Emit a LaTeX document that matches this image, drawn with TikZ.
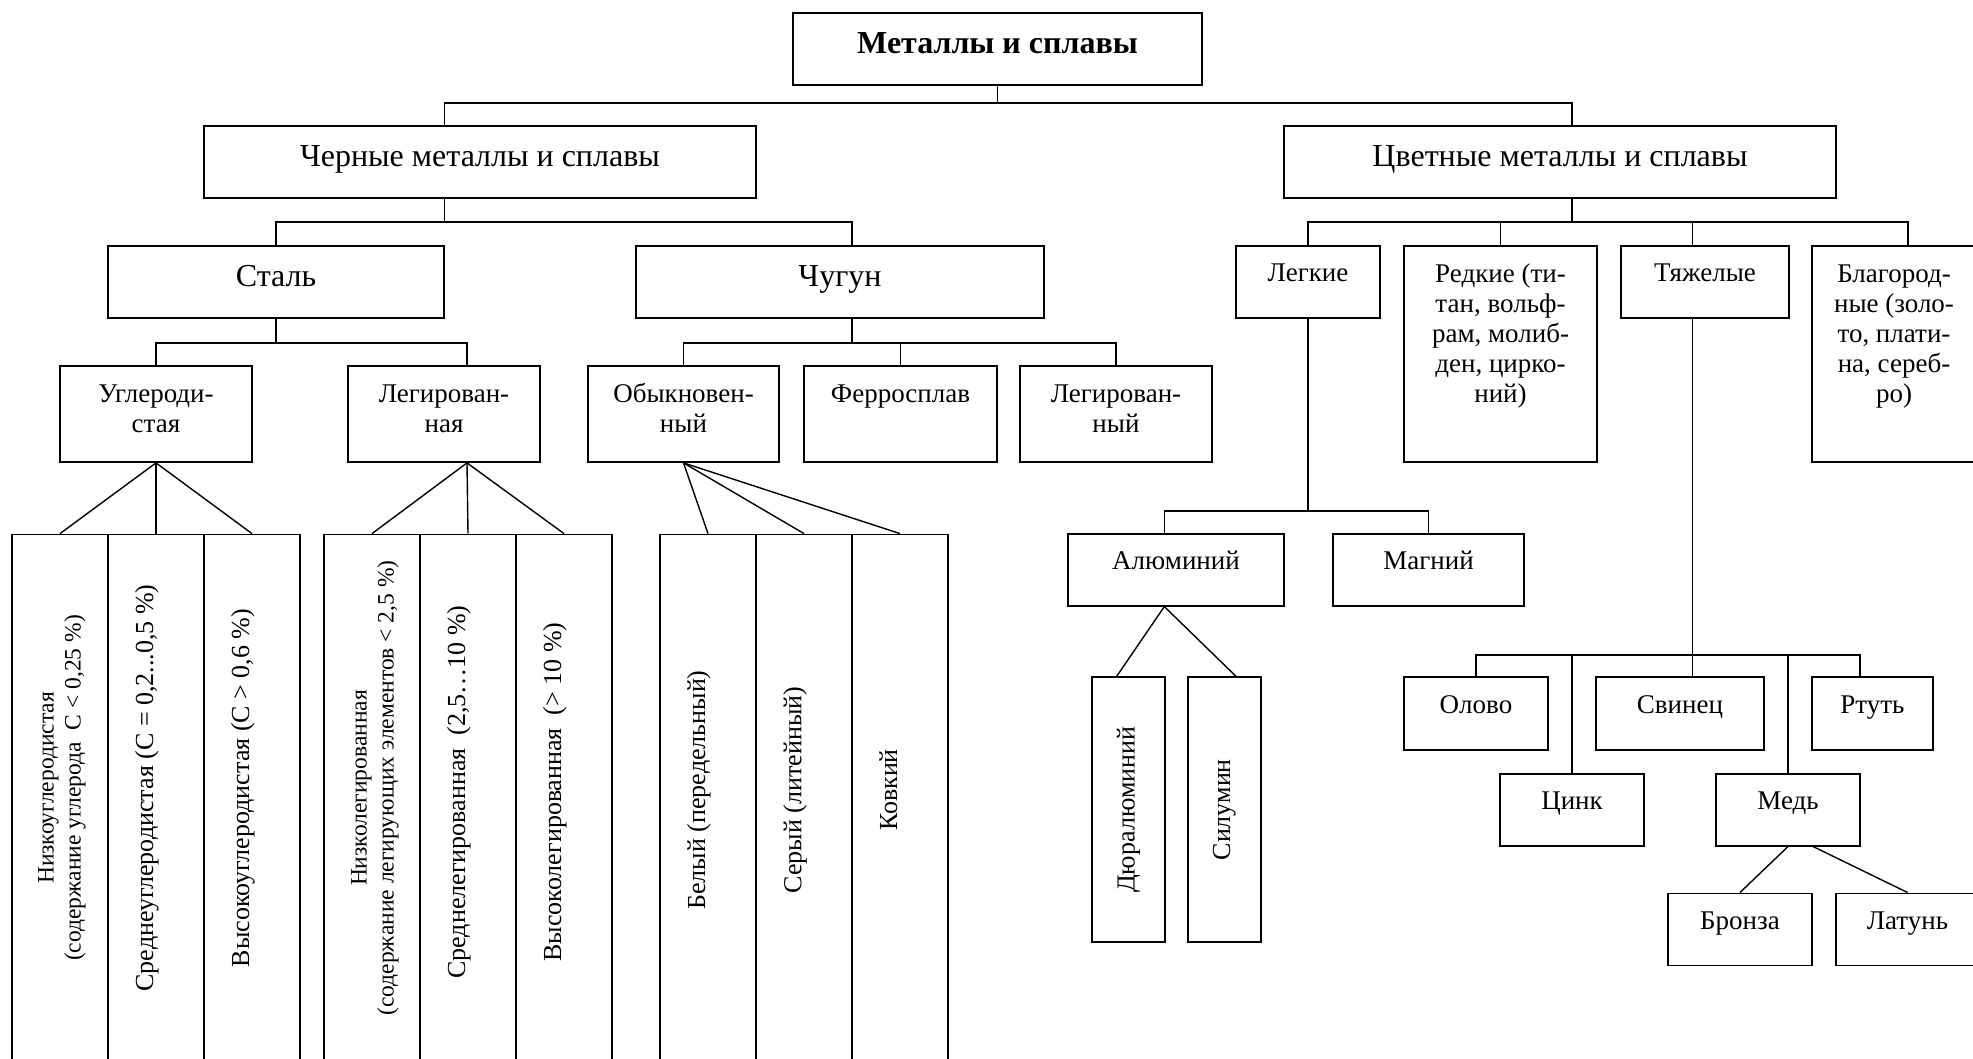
\documentclass[tikz,border=0pt]{standalone}
\usepackage{fontspec}
\setmainfont{Liberation Serif}
\usetikzlibrary{positioning}
% box with its text set at the top
\newcommand{\topcell}[4]{\parbox[c][#2][t]{#1}{\centering\vspace*{#3}\strut #4}}

\begin{document}
\begin{tikzpicture}[x=1pt, y=-1pt,
  every node/.style={font=\fontsize{27}{30}\selectfont},
  box/.style={draw, line width=1.8pt, inner sep=0pt},
  big/.style={box, font=\fontsize{32}{38}\selectfont},
  colbox/.style={draw, line width=1.8pt, inner sep=0pt, minimum width=96pt, minimum height=560pt, anchor=north},
  coltext/.style={rotate=90, anchor=north, align=center, inner sep=0pt, font=\fontsize{26}{28}\selectfont},
  twoline/.style={coltext, font=\fontsize{23.5}{27}\selectfont},
  link/.style={line width=1.4pt}]
  \useasboundingbox (0,0) rectangle (1973,1059);
  \clip (0,0) rectangle (1973,1059);

  % upper levels
  \node[box, font=\fontsize{32}{38}\selectfont\bfseries] (metal) at (997.5,49) {\topcell{409pt}{72pt}{14pt}{Металлы и сплавы}};
  \node[big] (cher) at (480,162) {\topcell{552pt}{72pt}{14pt}{Черные металлы и сплавы}};
  \node[big] (cvet) at (1560,162) {\topcell{552pt}{72pt}{14pt}{Цветные металлы и сплавы}};
  \node[big] (stal) at (276,282) {\topcell{336pt}{72pt}{14pt}{Сталь}};
  \node[big] (chug) at (840,282) {\topcell{408pt}{72pt}{14pt}{Чугун}};
  \node[box] (legk) at (1308,282) {\topcell{144pt}{72pt}{15pt}{Легкие}};
  \node[box] (redk) at (1500.5,354) {\topcell{193pt}{216pt}{15pt}{Редкие (ти-\\тан, вольф-\\рам, молиб-\\ден, цирко-\\ний)}};
  \node[box] (tyazh) at (1705,282) {\topcell{168pt}{72pt}{15pt}{Тяжелые}};
  \node[box] (blag) at (1894,354) {\topcell{164pt}{216pt}{15pt}{Благород-\\ные (золо-\\то, плати-\\на, сереб-\\ро)}};

  \node[box] (ugl) at (156,414) {\topcell{192pt}{96pt}{15pt}{Углероди-\\стая}};
  \node[box] (legir) at (444,414) {\topcell{192pt}{96pt}{15pt}{Легирован-\\ная}};
  \node[box] (obyk) at (683.5,414) {\topcell{191pt}{96pt}{15pt}{Обыкновен-\\ный}};
  \node[box] (ferro) at (900.5,414) {\topcell{193pt}{96pt}{15pt}{Ферросплав}};
  \node[box] (legny) at (1116,414) {\topcell{192pt}{96pt}{15pt}{Легирован-\\ный}};

  % light and heavy metals
  \node[box] (alum) at (1176,569.7) {\topcell{216pt}{72pt}{15pt}{Алюминий}};
  \node[box] (magn) at (1428.5,569.7) {\topcell{191pt}{72pt}{15pt}{Магний}};
  \node[box, rotate=90, minimum width=265pt, minimum height=73pt, font=\fontsize{26}{28}\selectfont] (dural) at (1128.4,809.7) {Дюралюминий};
  \node[box, rotate=90, minimum width=265pt, minimum height=73pt, font=\fontsize{26}{28}\selectfont] (silum) at (1224.4,809.7) {Силумин};
  \node[box] (olovo) at (1476,713.7) {\topcell{144pt}{73pt}{15pt}{Олово}};
  \node[box] (svin) at (1680,713.7) {\topcell{168pt}{73pt}{15pt}{Свинец}};
  \node[box] (rtut) at (1872.5,713.7) {\topcell{121pt}{73pt}{15pt}{Ртуть}};
  \node[box] (cink) at (1572,809.6) {\topcell{144pt}{72pt}{15pt}{Цинк}};
  \node[box] (med) at (1788,809.6) {\topcell{144pt}{72pt}{15pt}{Медь}};
  \node[box] (bronz) at (1740,929.4) {\topcell{144pt}{72pt}{15pt}{Бронза}};
  \node[box] (latun) at (1907.5,929.4) {\topcell{143pt}{72pt}{15pt}{Латунь}};

  % tall columns
  \foreach \n/\x in {nizk/60, sredn/156, vysok/252, nlg/372, slg/468, vlg/564, bel/708, ser/804, kovk/900}
    \node[colbox] (\n) at (\x,533.6) {};
  \node[twoline] (nizk-t) at (38,788) {Низкоуглеродистая\\(содержание углерода\ \ C < 0,25 \%)};
  \node[coltext] (sredn-t) at (135,788) {Среднеуглеродистая (С = 0,2...0,5 \%)};
  \node[coltext] (vysok-t) at (231,788) {Высокоуглеродистая (С > 0,6 \%)};
  \node[twoline] (nlg-t) at (351,788) {Низколегированная\\(содержание легирующих элементов < 2,5 \%)};
  \node[coltext] (slg-t) at (447,792) {Среднелегированная\ \ (2,5…10 \%)};
  \node[coltext] (vlg-t) at (543,792) {Высоколегированная\ \ (> 10 \%)};
  \node[coltext] (bel-t) at (687,790) {Белый (передельный)};
  \node[coltext] (ser-t) at (783,790) {Серый (литейный)};
  \node[coltext] (kovk-t) at (879,790) {Ковкий};

  % tree lines
  \foreach \child/\dx in {cher/-35.5, cvet/12}
    \draw[link] (metal.south) -- ++(0,17) -| ([xshift=\dx pt]\child.north);
  \foreach \child/\dx in {stal/0, chug/12}
    \draw[link] ([xshift=-35.5pt]cher.south) -- ++(0,23) -| ([xshift=\dx pt]\child.north);
  \foreach \child/\dx in {legk/0, redk/0, tyazh/-12.5, blag/14}
    \draw[link] ([xshift=12pt]cvet.south) -- ++(0,23) -| ([xshift=\dx pt]\child.north);
  \foreach \child/\dx in {ugl/0, legir/23}
    \draw[link] (stal.south) -- ++(0,24) -| ([xshift=\dx pt]\child.north);
  \foreach \child in {obyk, ferro, legny}
    \draw[link] ([xshift=12pt]chug.south) -- ++(0,24) -| (\child.north);
  \foreach \child/\dx in {alum/-11.7, magn/0}
    \draw[link] (legk.south) -- ++(0,192) -| ([xshift=\dx pt]\child.north);
  \foreach \child/\dx in {olovo/0, cink/0, svin/12.5, med/0, rtut/-12.5}
    \draw[link] ([xshift=-12.5pt]tyazh.south) -- ++(0,336) -| ([xshift=\dx pt]\child.north);

  % fans
  \foreach \col in {nizk, sredn, vysok}
    \draw[link] (ugl.south) -- (\col.north);
  \foreach \col in {nlg, slg, vlg}
    \draw[link] ([xshift=23pt]legir.south) -- (\col.north);
  \foreach \col in {bel, ser, kovk}
    \draw[link] (obyk.south) -- (\col.north);
  \draw[link] ([xshift=-11.7pt]alum.south) -- ([xshift=-11.7pt]dural.east);
  \draw[link] ([xshift=-11.7pt]alum.south) -- ([xshift=11.6pt]silum.east);
  \draw[link] (med.south) -- (bronz.north);
  \draw[link] ([xshift=25pt]med.south) -- (latun.north);
\end{tikzpicture}
\end{document}
